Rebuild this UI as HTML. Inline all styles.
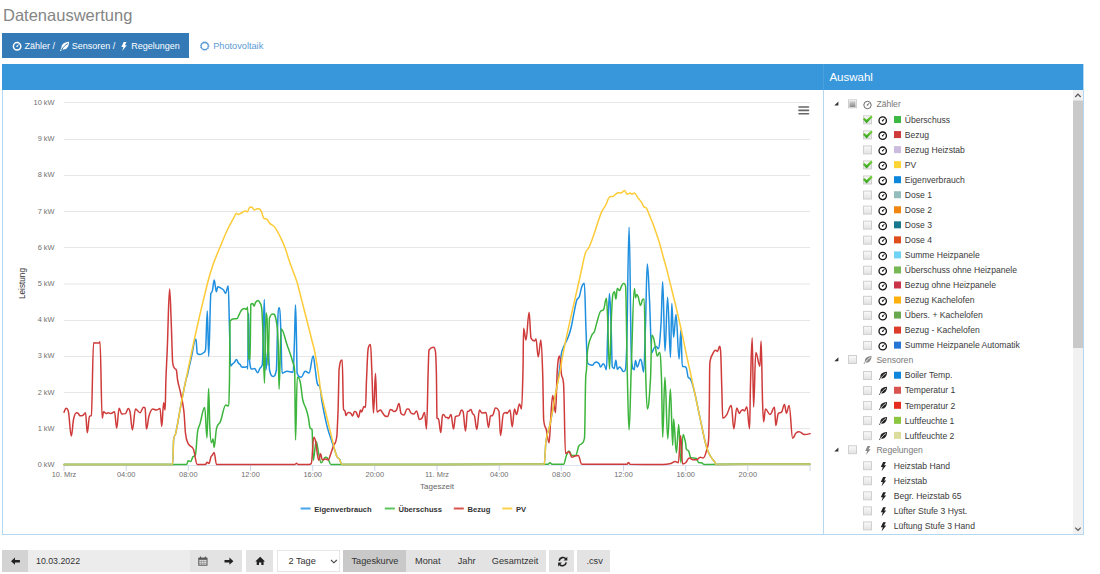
<!DOCTYPE html><html><head><meta charset="utf-8"><title>Datenauswertung</title><style>
*{box-sizing:border-box;margin:0;padding:0}
html,body{width:1100px;height:574px;overflow:hidden;background:#fff;font-family:"Liberation Sans",sans-serif}
body{position:relative}
.a{position:absolute;white-space:nowrap;line-height:1}
.tr{font-size:8.6px;color:#3a3a3a}
.tr.g{color:#777}
.bt{font-size:9.2px;color:#333}
svg{position:absolute;left:0;top:0}
</style></head><body>
<div class="a" style="left:3px;top:7px;font-size:16.5px;color:#858585">Datenauswertung</div>
<div class="a" style="left:2px;top:33px;width:187px;height:25px;background:#337ab7"></div>
<div class="a" style="left:24.5px;top:42.3px;font-size:9px;color:#fff">Zähler /</div>
<div class="a" style="left:71.8px;top:42.3px;font-size:9px;color:#fff">Sensoren /</div>
<div class="a" style="left:131.3px;top:42.3px;font-size:9px;color:#fff">Regelungen</div>
<div class="a" style="left:213.2px;top:42.2px;font-size:9.2px;color:#5b9bd5">Photovoltaik</div>
<div class="a" style="left:2px;top:64px;width:1082px;height:471px;border:1px solid #b5d8f2"></div>
<div class="a" style="left:2px;top:64px;width:1081px;height:26px;background:#3897db"></div>
<div class="a" style="left:823px;top:64px;width:1px;height:26px;background:#4a9fe0"></div>
<div class="a" style="left:823px;top:90px;width:1px;height:444px;background:#b5d8f2"></div>
<div class="a" style="left:829.4px;top:71.8px;font-size:11.5px;color:#fff">Auswahl</div>
<svg width="1100" height="574" viewBox="0 0 1100 574" style="font-family:Liberation Sans,sans-serif"><line x1="64" y1="102.5" x2="810" y2="102.5" stroke="#e6e6e6" stroke-width="1"/><line x1="64" y1="139.5" x2="810" y2="139.5" stroke="#e6e6e6" stroke-width="1"/><line x1="64" y1="175.5" x2="810" y2="175.5" stroke="#e6e6e6" stroke-width="1"/><line x1="64" y1="211.5" x2="810" y2="211.5" stroke="#e6e6e6" stroke-width="1"/><line x1="64" y1="247.5" x2="810" y2="247.5" stroke="#e6e6e6" stroke-width="1"/><line x1="64" y1="284.0" x2="810" y2="284.0" stroke="#e6e6e6" stroke-width="1"/><line x1="64" y1="320.5" x2="810" y2="320.5" stroke="#e6e6e6" stroke-width="1"/><line x1="64" y1="356.5" x2="810" y2="356.5" stroke="#e6e6e6" stroke-width="1"/><line x1="64" y1="392.5" x2="810" y2="392.5" stroke="#e6e6e6" stroke-width="1"/><line x1="64" y1="428.5" x2="810" y2="428.5" stroke="#e6e6e6" stroke-width="1"/><line x1="64" y1="465.5" x2="810" y2="465.5" stroke="#dde3f1" stroke-width="1"/><line x1="64.0" y1="465" x2="64.0" y2="471" stroke="#ccd6eb" stroke-width="1"/><line x1="126.2" y1="465" x2="126.2" y2="471" stroke="#ccd6eb" stroke-width="1"/><line x1="188.3" y1="465" x2="188.3" y2="471" stroke="#ccd6eb" stroke-width="1"/><line x1="250.5" y1="465" x2="250.5" y2="471" stroke="#ccd6eb" stroke-width="1"/><line x1="312.7" y1="465" x2="312.7" y2="471" stroke="#ccd6eb" stroke-width="1"/><line x1="374.8" y1="465" x2="374.8" y2="471" stroke="#ccd6eb" stroke-width="1"/><line x1="437.0" y1="465" x2="437.0" y2="471" stroke="#ccd6eb" stroke-width="1"/><line x1="499.2" y1="465" x2="499.2" y2="471" stroke="#ccd6eb" stroke-width="1"/><line x1="561.3" y1="465" x2="561.3" y2="471" stroke="#ccd6eb" stroke-width="1"/><line x1="623.5" y1="465" x2="623.5" y2="471" stroke="#ccd6eb" stroke-width="1"/><line x1="685.7" y1="465" x2="685.7" y2="471" stroke="#ccd6eb" stroke-width="1"/><line x1="747.8" y1="465" x2="747.8" y2="471" stroke="#ccd6eb" stroke-width="1"/><line x1="810.0" y1="465" x2="810.0" y2="471" stroke="#ccd6eb" stroke-width="1"/><text x="54.5" y="467.0" font-size="7.4" fill="#707070" text-anchor="end">0 kW</text><text x="54.5" y="430.8" font-size="7.4" fill="#707070" text-anchor="end">1 kW</text><text x="54.5" y="394.6" font-size="7.4" fill="#707070" text-anchor="end">2 kW</text><text x="54.5" y="358.4" font-size="7.4" fill="#707070" text-anchor="end">3 kW</text><text x="54.5" y="322.2" font-size="7.4" fill="#707070" text-anchor="end">4 kW</text><text x="54.5" y="286.0" font-size="7.4" fill="#707070" text-anchor="end">5 kW</text><text x="54.5" y="249.8" font-size="7.4" fill="#707070" text-anchor="end">6 kW</text><text x="54.5" y="213.6" font-size="7.4" fill="#707070" text-anchor="end">7 kW</text><text x="54.5" y="177.4" font-size="7.4" fill="#707070" text-anchor="end">8 kW</text><text x="54.5" y="141.2" font-size="7.4" fill="#707070" text-anchor="end">9 kW</text><text x="54.5" y="105.0" font-size="7.4" fill="#707070" text-anchor="end">10 kW</text><text x="64.0" y="477" font-size="7.4" fill="#707070" text-anchor="middle">10. Mrz</text><text x="126.2" y="477" font-size="7.4" fill="#707070" text-anchor="middle">04:00</text><text x="188.3" y="477" font-size="7.4" fill="#707070" text-anchor="middle">08:00</text><text x="250.5" y="477" font-size="7.4" fill="#707070" text-anchor="middle">12:00</text><text x="312.7" y="477" font-size="7.4" fill="#707070" text-anchor="middle">16:00</text><text x="374.8" y="477" font-size="7.4" fill="#707070" text-anchor="middle">20:00</text><text x="437.0" y="477" font-size="7.4" fill="#707070" text-anchor="middle">11. Mrz</text><text x="499.2" y="477" font-size="7.4" fill="#707070" text-anchor="middle">04:00</text><text x="561.3" y="477" font-size="7.4" fill="#707070" text-anchor="middle">08:00</text><text x="623.5" y="477" font-size="7.4" fill="#707070" text-anchor="middle">12:00</text><text x="685.7" y="477" font-size="7.4" fill="#707070" text-anchor="middle">16:00</text><text x="747.8" y="477" font-size="7.4" fill="#707070" text-anchor="middle">20:00</text><text x="437" y="489" font-size="8" fill="#666" text-anchor="middle">Tageszeit</text><text transform="translate(25.2,283.5) rotate(-90)" x="0" y="0" font-size="8.2" fill="#333" text-anchor="middle">Leistung</text><line x1="799" y1="107" x2="808.5" y2="107" stroke="#666" stroke-width="1.6" stroke-linecap="round"/><line x1="799" y1="110.4" x2="808.5" y2="110.4" stroke="#666" stroke-width="1.6" stroke-linecap="round"/><line x1="799" y1="113.8" x2="808.5" y2="113.8" stroke="#666" stroke-width="1.6" stroke-linecap="round"/><path d="M64.00,464.40 C64.00,464.40 129.16,464.40 172.60,464.40 C173.00,464.40 173.20,446.70 173.60,440.00 C174.44,433.30 174.86,437.33 175.70,433.30 C177.90,422.73 179.00,415.00 181.20,403.50 C183.08,393.68 184.02,388.63 185.90,380.00 C186.46,377.43 186.74,377.81 187.30,375.50 C188.94,368.73 189.76,364.24 191.40,357.30 C193.20,349.68 194.10,339.10 195.90,339.10 C196.46,339.10 196.74,352.70 197.30,353.60 C198.38,354.50 198.92,354.50 200.00,354.50 C201.44,354.50 202.16,353.88 203.60,352.70 C204.36,352.08 204.74,352.70 205.50,350.00 C206.22,347.30 206.58,310.90 207.30,310.90 C207.86,310.90 208.14,356.40 208.70,356.40 C209.58,356.40 210.02,296.30 210.90,293.60 C211.50,290.90 211.80,293.37 212.40,290.90 C213.12,287.93 213.48,280.00 214.20,280.00 C214.64,280.00 214.86,283.64 215.30,286.00 C215.74,288.36 215.96,291.80 216.40,291.80 C216.96,291.80 217.24,286.70 217.80,286.70 C219.08,286.70 219.72,287.47 221.00,288.20 C222.04,288.79 222.56,288.82 223.60,290.00 C224.36,290.86 224.74,293.30 225.50,293.30 C226.58,293.30 227.12,286.00 228.20,286.00 C228.68,286.00 228.92,309.02 229.40,325.00 C229.88,340.98 230.12,365.90 230.60,365.90 C231.28,365.90 231.62,364.73 232.30,364.10 C233.18,363.29 233.62,363.29 234.50,362.30 C235.26,361.45 235.64,359.50 236.40,359.50 C237.12,359.50 237.48,361.73 238.20,362.70 C239.12,363.93 239.58,363.82 240.50,365.00 C240.86,365.46 241.04,366.30 241.40,366.80 C242.64,367.30 243.26,367.30 244.50,367.30 C245.62,367.30 246.18,366.40 247.30,366.40 C247.46,366.40 247.54,369.10 247.70,369.10 C248.02,369.10 248.18,313.00 248.50,313.00 C248.90,313.00 249.10,350.90 249.50,360.00 C250.42,369.10 250.88,369.10 251.80,369.10 C252.88,369.10 253.42,368.60 254.50,368.60 C255.78,368.60 256.42,372.70 257.70,372.70 C258.62,372.70 259.08,369.84 260.00,368.20 C260.92,366.56 261.38,368.20 262.30,364.50 C263.10,360.80 263.50,299.50 264.30,299.50 C264.94,299.50 265.26,370.00 265.90,370.00 C266.82,370.00 267.28,348.20 268.20,348.20 C268.72,348.20 268.98,363.60 269.50,370.00 C270.98,376.40 271.72,376.40 273.20,376.40 C274.48,376.40 275.12,376.40 276.40,370.00 C276.84,363.60 277.06,342.99 277.50,330.00 C277.90,318.19 278.10,308.00 278.50,308.00 C278.94,308.00 279.16,308.00 279.60,308.00 C280.08,308.00 280.32,317.48 280.80,330.00 C281.32,343.56 281.58,373.20 282.10,373.20 C284.10,373.20 285.10,371.20 287.10,371.20 C289.50,371.20 290.70,372.20 293.10,372.20 C293.66,372.20 293.94,355.68 294.50,340.00 C294.90,328.80 295.10,305.00 295.50,305.00 C295.90,305.00 296.10,322.95 296.50,340.00 C296.74,350.23 296.86,369.20 297.10,373.20 C298.74,377.20 299.56,377.20 301.20,377.20 C302.80,377.20 303.60,371.20 305.20,371.20 C306.72,371.20 307.48,373.00 309.00,373.00 C310.68,373.00 311.52,356.10 313.20,356.10 C314.00,356.10 314.40,363.78 315.20,369.20 C316.00,374.62 316.40,380.19 317.20,383.20 C318.40,387.71 319.00,383.52 320.20,388.00 C320.80,390.24 321.10,396.59 321.70,400.00 C323.66,411.15 324.64,415.96 326.60,424.40 C328.04,430.60 328.76,432.06 330.20,436.60 C332.16,442.78 333.14,445.41 335.10,451.20 C335.86,453.45 336.24,455.30 337.00,456.70 C337.96,458.46 338.44,457.62 339.40,459.10 C340.44,460.70 340.96,464.40 342.00,464.40 C422.88,464.40 463.32,464.40 544.20,464.20 C544.92,464.00 545.28,445.93 546.00,441.00 C547.60,430.05 548.40,432.50 550.00,424.50 C552.92,409.90 554.38,401.88 557.30,384.50 C558.58,376.88 559.22,371.48 560.50,362.00 C560.98,358.44 561.22,353.49 561.70,351.90 C564.06,344.09 565.24,344.50 567.60,338.50 C568.92,335.14 569.58,333.84 570.90,328.50 C572.22,323.16 572.88,318.15 574.20,311.80 C575.24,306.79 575.76,303.18 576.80,300.10 C577.80,297.14 578.30,299.38 579.30,296.70 C580.30,294.02 580.80,289.38 581.80,286.70 C582.80,284.02 583.30,283.30 584.30,283.30 C584.98,283.30 585.32,313.17 586.00,330.00 C586.60,344.85 586.90,360.70 587.50,362.50 C588.14,364.30 588.46,363.94 589.10,364.30 C590.38,365.02 591.02,365.20 592.30,365.20 C593.18,365.20 593.62,363.59 594.50,362.90 C595.26,362.31 595.64,362.00 596.40,362.00 C597.48,362.00 598.02,362.48 599.10,363.80 C599.66,364.48 599.94,367.00 600.50,367.00 C601.58,367.00 602.12,363.80 603.20,363.80 C603.72,363.80 603.98,364.04 604.50,365.00 C605.26,366.40 605.64,369.70 606.40,369.70 C606.96,369.70 607.24,343.75 607.80,330.00 C608.48,313.31 608.82,293.60 609.50,293.60 C610.18,293.60 610.52,312.17 611.20,330.00 C611.64,341.53 611.86,365.60 612.30,367.00 C613.02,368.40 613.38,368.40 614.10,368.40 C614.82,368.40 615.18,360.20 615.90,360.20 C616.46,360.20 616.74,369.30 617.30,369.30 C618.18,369.30 618.62,367.00 619.50,367.00 C620.26,367.00 620.64,367.88 621.40,368.80 C622.12,369.68 622.48,371.50 623.20,371.50 C623.92,371.50 624.28,371.50 625.00,370.60 C625.56,369.70 625.84,370.60 626.40,355.50 C627.48,340.40 628.02,227.30 629.10,227.30 C630.06,227.30 630.54,350.30 631.50,360.00 C632.54,369.70 633.06,369.70 634.10,369.70 C634.66,369.70 634.94,360.60 635.50,360.60 C636.22,360.60 636.58,367.00 637.30,367.00 C638.58,367.00 639.22,359.30 640.50,359.30 C641.02,359.30 641.28,360.37 641.80,362.50 C642.52,365.45 642.88,372.00 643.60,372.00 C644.36,372.00 644.74,346.68 645.50,324.50 C646.22,303.48 646.58,264.00 647.30,264.00 C648.18,264.00 648.62,282.69 649.50,300.00 C650.42,318.09 650.88,352.50 651.80,352.50 C652.72,352.50 653.18,349.10 654.10,347.90 C655.02,346.70 655.48,346.50 656.40,346.50 C657.12,346.50 657.48,348.80 658.20,348.80 C659.32,348.80 659.88,341.18 661.00,324.50 C661.68,314.38 662.02,281.80 662.70,281.80 C663.62,281.80 664.08,351.10 665.00,351.10 C666.04,351.10 666.56,297.30 667.60,297.30 C668.76,297.30 669.34,357.30 670.50,357.30 C671.02,357.30 671.28,303.60 671.80,303.60 C672.52,303.60 672.88,337.30 673.60,337.30 C674.56,337.30 675.04,314.50 676.00,314.50 C677.24,314.50 677.86,359.00 679.10,359.00 C679.82,359.00 680.18,330.00 680.90,330.00 C681.46,330.00 681.74,366.40 682.30,366.40 C683.02,366.40 683.38,366.40 684.10,366.40 C685.02,366.40 685.48,366.40 686.40,368.20 C687.12,370.00 687.48,376.00 688.20,377.30 C688.92,378.60 689.28,377.30 690.00,378.60 C691.60,379.90 692.40,383.85 694.00,390.00 C696.04,397.85 697.06,404.08 699.10,413.60 C701.26,423.68 702.34,429.64 704.50,439.00 C705.70,444.20 706.30,446.72 707.50,450.00 C708.98,454.04 709.72,454.86 711.20,457.30 C712.68,459.74 713.42,459.92 714.90,462.20 C715.26,462.76 715.44,464.40 715.80,464.40 C753.48,464.40 810.00,464.20 810.00,464.20" fill="none" stroke="#1f8fe0" stroke-width="1.5" stroke-linejoin="round" stroke-linecap="round"/><path d="M64.00,464.40 C64.00,464.40 137.62,464.40 186.70,464.40 C187.30,464.40 187.60,460.80 188.20,460.80 C189.16,460.80 189.64,461.50 190.60,461.50 C191.52,461.50 191.98,458.01 192.90,456.80 C193.86,455.53 194.34,456.80 195.30,455.30 C196.22,453.80 196.68,437.85 197.60,431.70 C198.56,425.29 199.04,427.17 200.00,423.90 C201.88,417.49 202.82,407.50 204.70,407.50 C205.62,407.50 206.08,438.00 207.00,438.00 C207.64,438.00 207.96,388.60 208.60,388.60 C209.08,388.60 209.32,417.73 209.80,427.00 C210.44,439.37 210.76,442.70 211.40,442.70 C212.04,442.70 212.36,439.00 213.00,439.00 C213.44,439.00 213.66,447.40 214.10,447.40 C215.06,447.40 215.54,432.53 216.50,428.60 C218.06,422.21 218.84,425.50 220.40,421.60 C222.60,416.10 223.70,405.10 225.90,405.10 C226.82,405.10 227.28,405.90 228.20,405.90 C228.72,405.90 228.98,404.53 229.50,380.00 C229.70,370.57 229.80,323.20 230.00,321.00 C231.80,318.80 232.70,318.80 234.50,318.80 C235.42,318.80 235.88,318.80 236.80,318.80 C237.72,318.80 238.18,316.42 239.10,314.70 C240.02,312.98 240.48,311.27 241.40,310.20 C242.64,308.75 243.26,308.40 244.50,308.40 C245.26,308.40 245.64,309.30 246.40,309.30 C246.92,309.30 247.18,307.00 247.70,307.00 C248.06,307.00 248.24,359.10 248.60,359.10 C249.16,359.10 249.44,359.10 250.00,359.00 C250.36,358.90 250.54,305.20 250.90,304.30 C251.62,303.40 251.98,303.40 252.70,303.40 C253.26,303.40 253.54,306.10 254.10,306.10 C254.66,306.10 254.94,303.32 255.50,302.50 C256.50,301.04 257.00,300.40 258.00,300.40 C258.80,300.40 259.20,301.03 260.00,302.90 C260.72,304.59 261.08,302.90 261.80,309.30 C262.28,315.70 262.52,321.86 263.00,335.00 C263.60,351.42 263.90,383.20 264.50,383.20 C265.10,383.20 265.40,313.00 266.00,313.00 C266.40,313.00 266.60,313.00 267.00,318.00 C267.44,323.00 267.66,365.20 268.10,365.20 C268.66,365.20 268.94,322.00 269.50,318.00 C270.94,314.00 271.66,314.00 273.10,314.00 C274.30,314.00 274.90,314.00 276.10,320.00 C276.90,326.00 277.30,322.55 278.10,341.00 C278.50,350.23 278.70,389.20 279.10,389.20 C279.90,389.20 280.30,329.00 281.10,329.00 C283.50,329.00 284.70,338.20 287.10,345.00 C289.50,351.80 290.70,354.73 293.10,363.00 C293.74,365.21 294.06,363.00 294.70,371.20 C295.02,379.40 295.18,440.00 295.50,440.00 C296.22,440.00 296.58,377.30 297.30,377.30 C298.38,377.30 298.92,377.30 300.00,381.00 C301.12,384.70 301.68,394.78 302.80,400.00 C304.04,405.78 304.66,404.64 305.90,408.50 C306.86,411.48 307.34,412.64 308.30,417.10 C309.02,420.44 309.38,426.70 310.10,428.00 C310.86,429.30 311.24,428.00 312.00,429.30 C312.48,430.60 312.72,460.30 313.20,460.30 C314.40,460.30 315.00,441.50 316.20,441.50 C317.20,441.50 317.70,449.35 318.70,453.70 C319.66,457.87 320.14,462.80 321.10,462.80 C322.82,462.80 323.68,457.30 325.40,457.30 C326.36,457.30 326.84,457.30 327.80,458.50 C329.04,459.70 329.66,464.40 330.90,464.40 C417.74,464.40 461.16,464.40 548.00,464.20 C548.80,464.00 549.20,462.70 550.00,462.70 C550.80,462.70 551.20,464.20 552.00,464.20 C556.64,464.20 558.96,464.20 563.60,464.20 C564.72,464.20 565.28,458.21 566.40,455.50 C567.48,452.89 568.02,450.90 569.10,450.90 C570.18,450.90 570.72,455.50 571.80,455.50 C573.28,455.50 574.02,455.50 575.50,455.50 C576.94,455.50 577.66,447.40 579.10,445.50 C580.18,443.60 580.72,445.06 581.80,443.60 C582.88,442.14 583.42,443.60 584.50,438.20 C585.02,432.80 585.28,382.00 585.80,376.00 C586.08,370.00 586.22,374.01 586.50,370.00 C586.94,363.69 587.16,353.09 587.60,350.20 C589.28,339.17 590.12,339.81 591.80,335.20 C592.80,332.45 593.30,334.34 594.30,331.80 C595.38,329.06 595.92,325.55 597.00,322.00 C598.40,317.39 599.10,313.30 600.50,311.40 C601.74,309.50 602.36,311.40 603.60,309.50 C604.72,307.60 605.28,298.20 606.40,298.20 C606.84,298.20 607.06,304.95 607.50,315.00 C608.30,333.27 608.70,369.00 609.50,369.00 C610.30,369.00 610.70,332.62 611.50,315.00 C612.06,302.66 612.34,296.40 612.90,294.10 C613.54,291.80 613.86,291.80 614.50,291.80 C615.06,291.80 615.34,299.10 615.90,299.10 C616.46,299.10 616.74,288.60 617.30,288.60 C618.18,288.60 618.62,290.50 619.50,290.50 C620.42,290.50 620.88,287.05 621.80,285.50 C622.52,284.29 622.88,283.60 623.60,283.60 C624.36,283.60 624.74,283.60 625.50,285.50 C626.22,287.40 626.58,345.10 627.30,374.00 C628.02,402.90 628.38,430.00 629.10,430.00 C629.94,430.00 630.36,392.41 631.20,370.00 C632.48,335.85 633.12,288.60 634.40,288.60 C634.84,288.60 635.06,297.70 635.50,297.70 C636.02,297.70 636.28,294.50 636.80,294.50 C637.36,294.50 637.64,295.14 638.20,296.80 C639.12,299.54 639.58,305.50 640.50,305.50 C641.38,305.50 641.82,299.90 642.70,299.50 C643.26,299.10 643.54,299.10 644.10,299.10 C644.74,299.10 645.06,352.02 645.70,374.00 C646.34,395.98 646.66,409.00 647.30,409.00 C648.58,409.00 649.22,399.99 650.50,379.00 C651.02,370.47 651.28,335.20 651.80,335.20 C652.36,335.20 652.64,335.20 653.20,337.00 C654.12,338.80 654.58,343.64 655.50,347.90 C656.22,351.24 656.58,356.00 657.30,356.00 C658.18,356.00 658.62,352.50 659.50,352.50 C660.30,352.50 660.70,357.80 661.50,379.00 C661.98,391.72 662.22,437.30 662.70,437.30 C663.58,437.30 664.02,377.30 664.90,377.30 C666.06,377.30 666.64,439.00 667.80,439.00 C668.84,439.00 669.36,389.00 670.40,389.00 C671.32,389.00 671.78,445.50 672.70,445.50 C673.06,445.50 673.24,419.00 673.60,419.00 C674.72,419.00 675.28,452.70 676.40,452.70 C677.32,452.70 677.78,424.50 678.70,424.50 C679.58,424.50 680.02,462.70 680.90,462.70 C681.78,462.70 682.22,434.50 683.10,434.50 C684.06,434.50 684.54,438.27 685.50,442.70 C685.78,443.99 685.92,446.40 686.20,448.80 C687.20,451.20 687.70,449.22 688.70,451.20 C689.42,452.62 689.78,456.10 690.50,457.30 C692.94,458.50 694.16,457.30 696.60,458.50 C697.56,459.70 698.04,462.80 699.00,462.80 C700.00,462.80 700.50,462.80 701.50,462.80 C702.46,462.80 702.94,464.40 703.90,464.40 C746.34,464.40 810.00,464.20 810.00,464.20" fill="none" stroke="#3db53d" stroke-width="1.5" stroke-linejoin="round" stroke-linecap="round"/><path d="M64.00,412.20 C64.00,412.20 65.44,408.20 66.40,408.20 C67.12,408.20 67.48,408.20 68.20,410.90 C69.44,413.60 70.06,436.00 71.30,436.00 C72.22,436.00 72.68,423.20 73.60,419.00 C74.72,413.88 75.28,412.70 76.40,412.70 C77.12,412.70 77.48,412.70 78.20,413.30 C78.92,413.90 79.28,415.80 80.00,415.80 C81.08,415.80 81.62,415.80 82.70,415.50 C83.82,415.20 84.38,412.70 85.50,412.70 C86.22,412.70 86.58,432.70 87.30,432.70 C88.18,432.70 88.62,417.30 89.50,416.40 C90.22,415.50 90.58,416.40 91.30,415.50 C92.22,414.60 92.68,342.70 93.60,342.70 C94.72,342.70 95.28,343.10 96.40,343.10 C97.48,343.10 98.02,343.10 99.10,343.10 C99.46,343.10 99.64,341.80 100.00,341.80 C100.88,341.80 101.32,418.20 102.20,418.20 C102.76,418.20 103.04,411.80 103.60,411.80 C104.72,411.80 105.28,413.60 106.40,413.60 C107.12,413.60 107.48,412.70 108.20,412.70 C109.28,412.70 109.82,413.60 110.90,413.60 C112.34,413.60 113.06,411.80 114.50,411.80 C115.38,411.80 115.82,428.20 116.70,428.20 C117.66,428.20 118.14,408.20 119.10,408.20 C120.18,408.20 120.72,414.00 121.80,414.00 C123.28,414.00 124.02,414.00 125.50,413.60 C126.58,413.20 127.12,408.50 128.20,408.50 C128.92,408.50 129.28,408.50 130.00,411.80 C130.96,415.10 131.44,430.00 132.40,430.00 C133.64,430.00 134.26,409.00 135.50,409.00 C137.30,409.00 138.20,412.70 140.00,412.70 C141.44,412.70 142.16,407.30 143.60,407.30 C144.20,407.30 144.50,407.30 145.10,408.20 C145.62,409.10 145.88,429.10 146.40,429.10 C147.48,429.10 148.02,418.95 149.10,415.50 C150.54,410.91 151.26,409.00 152.70,409.00 C154.18,409.00 154.92,410.00 156.40,410.00 C157.84,410.00 158.56,408.50 160.00,408.50 C160.72,408.50 161.08,426.40 161.80,426.40 C162.52,426.40 162.88,402.70 163.60,402.70 C164.20,402.70 164.50,410.00 165.10,410.00 C165.42,410.00 165.58,388.99 165.90,380.00 C166.46,364.27 166.74,361.97 167.30,348.20 C168.22,325.57 168.68,289.00 169.60,289.00 C170.28,289.00 170.62,308.33 171.30,324.50 C171.86,337.81 172.14,357.20 172.70,362.70 C173.42,368.20 173.78,366.78 174.50,368.20 C175.26,369.70 175.64,368.20 176.40,370.00 C176.88,371.80 177.12,377.38 177.60,380.00 C178.88,386.98 179.52,387.62 180.80,394.00 C182.04,400.18 182.66,401.03 183.90,411.40 C184.54,416.75 184.86,428.16 185.50,433.30 C186.42,440.68 186.88,440.23 187.80,442.70 C188.76,445.27 189.24,444.80 190.20,445.90 C191.44,447.32 192.06,445.90 193.30,449.00 C194.90,452.10 195.70,464.40 197.30,464.40 C200.58,464.40 202.22,464.40 205.50,464.40 C206.10,464.40 206.40,462.30 207.00,462.30 C207.80,462.30 208.20,463.50 209.00,463.50 C209.80,463.50 210.20,458.74 211.00,456.80 C211.60,455.34 211.90,455.85 212.50,455.00 C213.14,454.09 213.46,452.40 214.10,452.40 C215.06,452.40 215.54,464.40 216.50,464.40 C247.90,464.40 263.60,464.40 295.00,464.40 C295.60,464.40 295.90,463.30 296.50,463.30 C297.10,463.30 297.40,464.40 298.00,464.40 C302.40,464.40 304.60,464.40 309.00,464.40 C309.92,464.40 310.38,464.40 311.30,463.40 C312.30,462.40 312.80,437.20 313.80,437.20 C314.52,437.20 314.88,438.11 315.60,441.50 C316.84,447.35 317.46,460.30 318.70,460.30 C319.42,460.30 319.78,453.70 320.50,453.70 C321.22,453.70 321.58,459.80 322.30,459.80 C323.54,459.80 324.16,459.10 325.40,459.10 C326.60,459.10 327.20,459.80 328.40,459.80 C329.12,459.80 329.48,457.48 330.20,455.50 C331.44,452.08 332.06,450.07 333.30,446.30 C334.78,441.79 335.52,446.30 337.00,434.80 C337.48,423.30 337.72,421.95 338.20,406.40 C338.52,396.03 338.68,380.00 339.00,370.00 C340.28,360.00 340.92,360.00 342.20,360.00 C342.72,360.00 342.98,407.00 343.50,409.00 C344.10,411.00 344.40,409.44 345.00,411.00 C345.40,412.04 345.60,415.50 346.00,415.50 C346.60,415.50 346.90,413.50 347.50,413.00 C348.10,412.50 348.40,412.50 349.00,412.50 C349.80,412.50 350.20,412.70 351.00,413.50 C351.60,414.10 351.90,416.00 352.50,416.00 C353.30,416.00 353.70,411.50 354.50,411.50 C355.10,411.50 355.40,411.50 356.00,412.00 C357.00,412.50 357.50,417.50 358.50,417.50 C359.30,417.50 359.70,410.00 360.50,410.00 C360.90,410.00 361.10,412.00 361.50,412.00 C362.50,412.00 363.00,406.50 364.00,406.50 C364.60,406.50 364.90,407.50 365.50,407.50 C365.90,407.50 366.10,388.79 366.50,380.00 C367.18,365.07 367.52,351.90 368.20,348.20 C369.12,344.50 369.58,344.50 370.50,344.50 C371.02,344.50 371.28,358.13 371.80,370.00 C372.48,385.53 372.82,413.00 373.50,413.00 C374.30,413.00 374.70,373.60 375.50,373.60 C376.10,373.60 376.40,412.00 377.00,412.00 C378.40,412.00 379.10,410.00 380.50,410.00 C381.10,410.00 381.40,411.20 382.00,412.00 C383.20,413.60 383.80,415.50 385.00,416.00 C386.00,416.50 386.50,416.50 387.50,416.50 C388.70,416.50 389.30,409.50 390.50,409.50 C391.10,409.50 391.40,409.66 392.00,410.00 C392.80,410.46 393.20,411.50 394.00,411.50 C395.00,411.50 395.50,411.50 396.50,410.00 C397.50,408.50 398.00,403.50 399.00,403.50 C399.80,403.50 400.20,412.00 401.00,413.50 C402.20,415.00 402.80,415.00 404.00,415.00 C405.20,415.00 405.80,409.00 407.00,409.00 C407.60,409.00 407.90,409.00 408.50,409.00 C409.50,409.00 410.00,412.00 411.00,413.00 C412.20,414.00 412.80,414.00 414.00,414.00 C415.00,414.00 415.50,411.00 416.50,411.00 C417.70,411.00 418.30,419.50 419.50,419.50 C420.50,419.50 421.00,419.40 422.00,418.00 C423.00,416.60 423.50,412.50 424.50,412.50 C425.30,412.50 425.70,429.00 426.50,429.00 C427.18,429.00 427.52,391.49 428.20,370.00 C428.52,359.89 428.68,352.70 429.00,350.00 C430.84,347.30 431.76,347.30 433.60,347.30 C434.36,347.30 434.74,347.30 435.50,352.00 C435.86,356.70 436.04,358.16 436.40,374.00 C436.64,384.56 436.76,417.00 437.00,418.00 C437.60,419.00 437.90,418.00 438.50,419.00 C439.42,420.00 439.88,432.50 440.80,432.50 C441.48,432.50 441.82,416.50 442.50,415.50 C442.90,414.50 443.10,414.50 443.50,414.50 C444.50,414.50 445.00,417.50 446.00,417.50 C446.60,417.50 446.90,417.50 447.50,417.50 C447.90,417.50 448.10,418.50 448.50,418.50 C449.50,418.50 450.00,414.50 451.00,414.50 C452.00,414.50 452.50,429.00 453.50,429.00 C454.30,429.00 454.70,417.50 455.50,416.50 C456.90,415.50 457.60,416.50 459.00,415.50 C460.00,414.50 460.50,410.00 461.50,410.00 C462.10,410.00 462.40,410.00 463.00,411.50 C464.00,413.00 464.50,431.00 465.50,431.00 C466.30,431.00 466.70,412.00 467.50,411.50 C468.10,411.00 468.40,411.34 469.00,411.00 C469.80,410.54 470.20,409.50 471.00,409.50 C471.60,409.50 471.90,412.39 472.50,413.50 C473.30,414.99 473.70,413.50 474.50,416.00 C475.42,418.50 475.88,429.50 476.80,429.50 C477.88,429.50 478.42,410.00 479.50,410.00 C480.50,410.00 481.00,413.00 482.00,413.00 C483.60,413.00 484.40,412.50 486.00,412.50 C487.00,412.50 487.50,427.50 488.50,427.50 C489.30,427.50 489.70,416.50 490.50,416.00 C491.30,415.50 491.70,416.00 492.50,415.50 C493.70,415.00 494.30,408.00 495.50,408.00 C496.90,408.00 497.60,408.00 499.00,411.50 C499.60,415.00 499.90,435.50 500.50,435.50 C501.70,435.50 502.30,414.50 503.50,413.50 C504.70,412.50 505.30,412.50 506.50,412.50 C506.70,412.50 506.80,413.50 507.00,413.50 C508.20,413.50 508.80,410.00 510.00,410.00 C510.88,410.00 511.32,427.00 512.20,427.00 C513.12,427.00 513.58,409.00 514.50,409.00 C515.30,409.00 515.70,414.50 516.50,414.50 C517.70,414.50 518.30,404.00 519.50,404.00 C520.30,404.00 520.70,409.00 521.50,409.00 C522.10,409.00 522.40,393.09 523.00,370.00 C523.24,360.77 523.36,328.20 523.60,328.20 C524.56,328.20 525.04,340.00 526.00,340.00 C527.24,340.00 527.86,312.20 529.10,312.20 C529.86,312.20 530.24,335.40 531.00,338.20 C532.40,341.00 533.10,341.00 534.50,341.00 C535.10,341.00 535.40,339.00 536.00,339.00 C536.88,339.00 537.32,357.00 538.20,357.00 C539.28,357.00 539.82,340.00 540.90,340.00 C541.62,340.00 541.98,352.93 542.70,374.00 C543.06,384.53 543.24,408.00 543.60,419.00 C544.72,430.00 545.28,425.17 546.40,430.00 C547.48,434.65 548.02,442.70 549.10,442.70 C549.82,442.70 550.18,424.94 550.90,415.50 C551.62,406.06 551.98,395.50 552.70,395.50 C553.82,395.50 554.38,412.70 555.50,412.70 C556.22,412.70 556.58,379.72 557.30,370.00 C558.26,357.04 558.74,356.00 559.70,356.00 C560.38,356.00 560.72,369.03 561.40,374.00 C562.28,380.43 562.72,374.00 563.60,384.50 C564.36,395.00 564.74,453.60 565.50,453.60 C566.94,453.60 567.66,451.80 569.10,451.80 C570.18,451.80 570.72,457.30 571.80,457.30 C573.08,457.30 573.72,456.36 575.00,456.00 C576.28,455.64 576.92,455.50 578.20,455.50 C579.64,455.50 580.36,464.20 581.80,464.20 C599.88,464.20 608.92,464.20 627.00,464.20 C627.60,464.20 627.90,462.50 628.50,462.50 C629.10,462.50 629.40,464.00 630.00,464.20 C643.08,464.40 649.62,464.40 662.70,464.40 C666.02,464.40 667.68,464.14 671.00,463.40 C672.68,463.02 673.52,461.60 675.20,461.60 C676.44,461.60 677.06,462.80 678.30,462.80 C679.26,462.80 679.74,435.40 680.70,435.40 C681.46,435.40 681.84,464.00 682.60,464.00 C683.80,464.00 684.40,463.87 685.60,462.80 C687.08,461.47 687.82,458.00 689.30,458.00 C690.74,458.00 691.46,459.80 692.90,459.80 C694.38,459.80 695.12,459.80 696.60,459.80 C698.04,459.80 698.76,457.30 700.20,457.30 C701.44,457.30 702.06,457.90 703.30,457.90 C704.78,457.90 705.52,454.53 707.00,448.80 C707.72,446.01 708.08,448.80 708.80,436.60 C709.04,424.40 709.16,418.48 709.40,400.00 C709.48,393.84 709.52,380.97 709.60,375.00 C709.72,366.05 709.78,363.55 709.90,362.70 C710.94,355.31 711.46,356.72 712.50,354.40 C713.70,351.72 714.30,350.20 715.50,350.20 C716.30,350.20 716.70,351.50 717.50,351.50 C718.34,351.50 718.76,346.30 719.60,346.30 C719.96,346.30 720.14,346.30 720.50,350.00 C721.02,353.70 721.28,372.56 721.80,388.00 C722.20,399.88 722.40,418.30 722.80,418.30 C724.28,418.30 725.02,417.43 726.50,415.20 C728.42,412.31 729.38,405.50 731.30,405.50 C732.30,405.50 732.80,428.70 733.80,428.70 C735.00,428.70 735.60,408.00 736.80,408.00 C737.80,408.00 738.30,413.40 739.30,413.40 C739.98,413.40 740.32,411.68 741.00,411.00 C741.76,410.24 742.14,409.80 742.90,409.80 C743.54,409.80 743.86,411.00 744.50,411.00 C745.42,411.00 745.88,406.70 746.80,406.70 C747.92,406.70 748.48,428.70 749.60,428.70 C749.92,428.70 750.08,399.19 750.40,388.00 C751.12,362.83 751.48,337.80 752.20,337.80 C752.76,337.80 753.04,407.00 753.60,407.00 C754.48,407.00 754.92,352.60 755.80,352.60 C757.44,352.60 758.26,366.20 759.90,366.20 C760.38,366.20 760.62,341.10 761.10,341.10 C761.66,341.10 761.94,381.92 762.50,400.00 C762.94,414.20 763.16,421.80 763.60,421.80 C764.36,421.80 764.74,409.00 765.50,409.00 C767.30,409.00 768.20,414.50 770.00,414.50 C771.80,414.50 772.70,407.30 774.50,407.30 C775.02,407.30 775.28,425.50 775.80,425.50 C776.76,425.50 777.24,415.40 778.20,413.60 C779.64,411.80 780.36,413.60 781.80,411.80 C782.88,410.00 783.42,404.50 784.50,404.50 C785.26,404.50 785.64,413.30 786.40,413.30 C787.48,413.30 788.02,405.50 789.10,405.50 C790.54,405.50 791.26,438.20 792.70,438.20 C794.02,438.20 794.68,434.20 796.00,433.00 C797.24,431.80 797.86,431.80 799.10,431.80 C801.26,431.80 802.34,434.50 804.50,434.50 C806.70,434.50 810.00,433.60 810.00,433.60" fill="none" stroke="#cf3b3b" stroke-width="1.5" stroke-linejoin="round" stroke-linecap="round"/><path d="M64.00,464.40 C64.00,464.40 129.16,464.40 172.60,464.40 C173.00,464.40 173.20,446.70 173.60,440.00 C174.44,433.30 174.86,437.33 175.70,433.30 C177.90,422.73 179.00,415.00 181.20,403.50 C183.08,393.68 184.02,389.09 185.90,380.00 C190.10,359.69 192.20,348.84 196.40,330.00 C200.76,310.44 202.94,301.25 207.30,284.00 C209.46,275.45 210.54,271.74 212.70,265.50 C215.62,257.06 217.08,254.40 220.00,247.30 C222.92,240.20 224.38,236.22 227.30,230.00 C230.18,223.86 231.62,221.69 234.50,216.40 C235.26,215.01 235.64,213.30 236.40,213.30 C237.04,213.30 237.36,214.50 238.00,214.50 C239.52,214.50 240.28,213.41 241.80,212.70 C243.28,212.01 244.02,211.00 245.50,211.00 C246.22,211.00 246.58,211.80 247.30,211.80 C248.38,211.80 248.92,206.90 250.00,206.90 C250.80,206.90 251.20,206.90 252.00,207.30 C252.88,207.70 253.32,210.00 254.20,210.00 C255.44,210.00 256.06,208.70 257.30,208.70 C258.22,208.70 258.68,208.70 259.60,209.00 C260.36,209.30 260.74,210.16 261.50,211.80 C262.50,213.96 263.00,218.00 264.00,218.50 C264.96,219.00 265.44,218.50 266.40,219.00 C267.84,219.50 268.56,222.20 270.00,223.60 C271.80,225.36 272.70,224.49 274.50,226.90 C277.06,230.33 278.34,233.06 280.90,238.20 C282.74,241.90 283.66,244.05 285.50,249.00 C286.90,252.77 287.60,255.90 289.00,260.00 C290.84,265.38 291.76,267.60 293.60,272.70 C295.08,276.80 295.82,278.34 297.30,283.00 C298.02,285.26 298.38,287.19 299.10,290.00 C301.66,299.99 302.94,304.92 305.50,315.00 C308.22,325.72 309.58,331.12 312.30,342.00 C313.38,346.32 313.92,347.18 315.00,353.00 C316.68,362.06 317.52,367.90 319.20,379.20 C319.72,382.70 319.98,387.44 320.50,390.00 C323.22,403.36 324.58,407.60 327.30,419.00 C330.42,432.08 331.98,439.07 335.10,451.20 C335.86,454.15 336.24,455.30 337.00,456.70 C337.96,458.46 338.44,457.62 339.40,459.10 C340.44,460.70 340.96,464.40 342.00,464.40 C422.88,464.40 463.32,464.40 544.20,464.20 C544.92,464.00 545.28,445.93 546.00,441.00 C547.60,430.05 548.40,432.50 550.00,424.50 C552.92,409.90 554.38,399.89 557.30,384.50 C558.06,380.49 558.44,380.06 559.20,376.00 C560.88,367.02 561.72,360.31 563.40,351.90 C566.72,335.27 568.38,328.41 571.70,313.40 C574.74,299.65 576.26,293.51 579.30,280.00 C580.30,275.55 580.80,272.90 581.80,268.50 C583.28,261.98 584.02,257.00 585.50,252.70 C586.94,248.52 587.66,250.50 589.10,247.30 C591.26,242.50 592.34,238.87 594.50,232.70 C597.06,225.39 598.34,219.93 600.90,213.60 C602.74,209.05 603.66,208.92 605.50,205.50 C607.30,202.16 608.20,197.00 610.00,196.70 C611.08,196.40 611.62,196.70 612.70,196.40 C614.90,196.10 616.00,192.70 618.20,192.70 C619.32,192.70 619.88,193.00 621.00,193.00 C622.40,193.00 623.10,190.50 624.50,190.50 C625.62,190.50 626.18,194.20 627.30,194.20 C628.38,194.20 628.92,193.00 630.00,193.00 C630.80,193.00 631.20,194.20 632.00,194.20 C632.88,194.20 633.32,193.00 634.20,193.00 C635.80,193.00 636.60,196.16 638.20,198.20 C639.64,200.04 640.36,200.51 641.80,202.70 C642.52,203.79 642.88,205.54 643.60,206.40 C644.72,207.74 645.28,206.55 646.40,208.20 C647.48,209.79 648.02,211.91 649.10,214.50 C650.90,218.83 651.80,220.59 653.60,225.50 C655.80,231.51 656.90,234.61 659.10,241.80 C660.90,247.69 661.80,251.74 663.60,258.20 C664.72,262.22 665.28,263.69 666.40,268.00 C667.96,274.01 668.74,277.70 670.30,284.00 C670.74,285.78 670.96,286.43 671.40,288.20 C673.36,296.11 674.34,299.92 676.30,308.20 C678.30,316.64 679.30,320.82 681.30,330.00 C683.10,338.26 684.00,343.33 685.80,351.80 C687.40,359.33 688.20,362.64 689.80,370.00 C691.52,377.92 692.38,381.94 694.10,390.00 C696.10,399.38 697.10,404.18 699.10,413.60 C701.26,423.78 702.34,429.64 704.50,439.00 C705.70,444.20 706.30,446.72 707.50,450.00 C708.98,454.04 709.72,454.86 711.20,457.30 C712.68,459.74 713.42,459.92 714.90,462.20 C715.26,462.76 715.44,464.40 715.80,464.40 C753.48,464.40 810.00,464.20 810.00,464.20" fill="none" stroke="#fdcb37" stroke-width="1.5" stroke-linejoin="round" stroke-linecap="round"/><line x1="64" y1="464.5" x2="172.8" y2="464.5" stroke="#bdc96c" stroke-width="1.3"/><line x1="342.5" y1="464.5" x2="544.2" y2="464.5" stroke="#bdc96c" stroke-width="1.3"/><line x1="715.2" y1="464.5" x2="810" y2="464.5" stroke="#bdc96c" stroke-width="1.3"/><line x1="300.6" y1="508.5" x2="310.6" y2="508.5" stroke="#45a5e8" stroke-width="2"/><text x="314.3" y="511.5" font-size="7.6" font-weight="bold" fill="#333">Eigenverbrauch</text><line x1="384.8" y1="508.5" x2="394.8" y2="508.5" stroke="#5cc45c" stroke-width="2"/><text x="398.5" y="511.5" font-size="7.6" font-weight="bold" fill="#333">Überschuss</text><line x1="453.8" y1="508.5" x2="463.8" y2="508.5" stroke="#d9534f" stroke-width="2"/><text x="467.5" y="511.5" font-size="7.6" font-weight="bold" fill="#333">Bezug</text><line x1="502.3" y1="508.5" x2="512.3" y2="508.5" stroke="#fbd14b" stroke-width="2"/><text x="516.0" y="511.5" font-size="7.6" font-weight="bold" fill="#333">PV</text></svg>
<svg width="1100" height="574" viewBox="0 0 1100 574"><defs><linearGradient id="cbg" x1="0" y1="0" x2="0" y2="1"><stop offset="0" stop-color="#fafafa"/><stop offset="1" stop-color="#e2e2e2"/></linearGradient><linearGradient id="pg" x1="0" y1="0" x2="0" y2="1"><stop offset="0" stop-color="#d0d0d0"/><stop offset="1" stop-color="#8a8a8a"/></linearGradient><linearGradient id="chk" x1="0" y1="0" x2="0" y2="1"><stop offset="0" stop-color="#7cdc3c"/><stop offset="1" stop-color="#2a9a1a"/></linearGradient></defs><path d="M838.4,101.6 L838.4,105.5 L834.3,105.5 Z" fill="#333"/><rect x="848.5" y="99.8" width="8" height="8" fill="url(#cbg)" stroke="#cfcfcf" stroke-width="1"/><rect x="849.6" y="101.2" width="5.8" height="5.8" fill="url(#pg)"/><circle cx="867.5" cy="104.99999999999999" r="3.7" fill="none" stroke="#6a6a6a" stroke-width="1.0"/><path d="M867.5,104.99999999999999 L869.3,102.99999999999999" stroke="#6a6a6a" stroke-width="1"/><circle cx="867.5" cy="104.99999999999999" r="0.8" fill="#6a6a6a"/><rect x="863.5" y="115.83999999999999" width="8" height="8" fill="url(#cbg)" stroke="#cfcfcf" stroke-width="1"/><path d="M862.9,119.33999999999999 L864.5,117.83999999999999 L866.6,119.83999999999999 L871.2,115.43999999999998 L872.7,117.03999999999999 L866.6,123.33999999999999 Z" fill="url(#chk)"/><circle cx="882.7" cy="120.63999999999999" r="3.7" fill="none" stroke="#111" stroke-width="1.3"/><path d="M882.7,120.63999999999999 L884.5,118.63999999999999" stroke="#111" stroke-width="1"/><circle cx="882.7" cy="120.63999999999999" r="0.8" fill="#111"/><rect x="894" y="116.04" width="7" height="7" fill="#3db843"/><rect x="863.5" y="130.88" width="8" height="8" fill="url(#cbg)" stroke="#cfcfcf" stroke-width="1"/><path d="M862.9,134.38 L864.5,132.88 L866.6,134.88 L871.2,130.48 L872.7,132.07999999999998 L866.6,138.38 Z" fill="url(#chk)"/><circle cx="882.7" cy="135.68" r="3.7" fill="none" stroke="#111" stroke-width="1.3"/><path d="M882.7,135.68 L884.5,133.68" stroke="#111" stroke-width="1"/><circle cx="882.7" cy="135.68" r="0.8" fill="#111"/><rect x="894" y="131.08" width="7" height="7" fill="#cf3a3a"/><rect x="863.5" y="145.92" width="8" height="8" fill="url(#cbg)" stroke="#cfcfcf" stroke-width="1"/><circle cx="882.7" cy="150.72" r="3.7" fill="none" stroke="#111" stroke-width="1.3"/><path d="M882.7,150.72 L884.5,148.72" stroke="#111" stroke-width="1"/><circle cx="882.7" cy="150.72" r="0.8" fill="#111"/><rect x="894" y="146.12" width="7" height="7" fill="#cbbcdf"/><rect x="863.5" y="160.95999999999998" width="8" height="8" fill="url(#cbg)" stroke="#cfcfcf" stroke-width="1"/><path d="M862.9,164.45999999999998 L864.5,162.95999999999998 L866.6,164.95999999999998 L871.2,160.55999999999997 L872.7,162.15999999999997 L866.6,168.45999999999998 Z" fill="url(#chk)"/><circle cx="882.7" cy="165.76" r="3.7" fill="none" stroke="#111" stroke-width="1.3"/><path d="M882.7,165.76 L884.5,163.76" stroke="#111" stroke-width="1"/><circle cx="882.7" cy="165.76" r="0.8" fill="#111"/><rect x="894" y="161.16" width="7" height="7" fill="#fcd434"/><rect x="863.5" y="175.99999999999997" width="8" height="8" fill="url(#cbg)" stroke="#cfcfcf" stroke-width="1"/><path d="M862.9,179.49999999999997 L864.5,177.99999999999997 L866.6,179.99999999999997 L871.2,175.59999999999997 L872.7,177.19999999999996 L866.6,183.49999999999997 Z" fill="url(#chk)"/><circle cx="882.7" cy="180.79999999999998" r="3.7" fill="none" stroke="#111" stroke-width="1.3"/><path d="M882.7,180.79999999999998 L884.5,178.79999999999998" stroke="#111" stroke-width="1"/><circle cx="882.7" cy="180.79999999999998" r="0.8" fill="#111"/><rect x="894" y="176.20" width="7" height="7" fill="#0d86db"/><rect x="863.5" y="191.03999999999996" width="8" height="8" fill="url(#cbg)" stroke="#cfcfcf" stroke-width="1"/><circle cx="882.7" cy="195.83999999999997" r="3.7" fill="none" stroke="#111" stroke-width="1.3"/><path d="M882.7,195.83999999999997 L884.5,193.83999999999997" stroke="#111" stroke-width="1"/><circle cx="882.7" cy="195.83999999999997" r="0.8" fill="#111"/><rect x="894" y="191.24" width="7" height="7" fill="#93bdbd"/><rect x="863.5" y="206.07999999999998" width="8" height="8" fill="url(#cbg)" stroke="#cfcfcf" stroke-width="1"/><circle cx="882.7" cy="210.88" r="3.7" fill="none" stroke="#111" stroke-width="1.3"/><path d="M882.7,210.88 L884.5,208.88" stroke="#111" stroke-width="1"/><circle cx="882.7" cy="210.88" r="0.8" fill="#111"/><rect x="894" y="206.28" width="7" height="7" fill="#f0860f"/><rect x="863.5" y="221.11999999999998" width="8" height="8" fill="url(#cbg)" stroke="#cfcfcf" stroke-width="1"/><circle cx="882.7" cy="225.92" r="3.7" fill="none" stroke="#111" stroke-width="1.3"/><path d="M882.7,225.92 L884.5,223.92" stroke="#111" stroke-width="1"/><circle cx="882.7" cy="225.92" r="0.8" fill="#111"/><rect x="894" y="221.32" width="7" height="7" fill="#17788f"/><rect x="863.5" y="236.15999999999997" width="8" height="8" fill="url(#cbg)" stroke="#cfcfcf" stroke-width="1"/><circle cx="882.7" cy="240.95999999999998" r="3.7" fill="none" stroke="#111" stroke-width="1.3"/><path d="M882.7,240.95999999999998 L884.5,238.95999999999998" stroke="#111" stroke-width="1"/><circle cx="882.7" cy="240.95999999999998" r="0.8" fill="#111"/><rect x="894" y="236.36" width="7" height="7" fill="#df4d1c"/><rect x="863.5" y="251.2" width="8" height="8" fill="url(#cbg)" stroke="#cfcfcf" stroke-width="1"/><circle cx="882.7" cy="256.0" r="3.7" fill="none" stroke="#111" stroke-width="1.3"/><path d="M882.7,256.0 L884.5,254.0" stroke="#111" stroke-width="1"/><circle cx="882.7" cy="256.0" r="0.8" fill="#111"/><rect x="894" y="251.40" width="7" height="7" fill="#70d3f5"/><rect x="863.5" y="266.23999999999995" width="8" height="8" fill="url(#cbg)" stroke="#cfcfcf" stroke-width="1"/><circle cx="882.7" cy="271.03999999999996" r="3.7" fill="none" stroke="#111" stroke-width="1.3"/><path d="M882.7,271.03999999999996 L884.5,269.03999999999996" stroke="#111" stroke-width="1"/><circle cx="882.7" cy="271.03999999999996" r="0.8" fill="#111"/><rect x="894" y="266.44" width="7" height="7" fill="#77b855"/><rect x="863.5" y="281.28" width="8" height="8" fill="url(#cbg)" stroke="#cfcfcf" stroke-width="1"/><circle cx="882.7" cy="286.08" r="3.7" fill="none" stroke="#111" stroke-width="1.3"/><path d="M882.7,286.08 L884.5,284.08" stroke="#111" stroke-width="1"/><circle cx="882.7" cy="286.08" r="0.8" fill="#111"/><rect x="894" y="281.48" width="7" height="7" fill="#c93448"/><rect x="863.5" y="296.32" width="8" height="8" fill="url(#cbg)" stroke="#cfcfcf" stroke-width="1"/><circle cx="882.7" cy="301.12" r="3.7" fill="none" stroke="#111" stroke-width="1.3"/><path d="M882.7,301.12 L884.5,299.12" stroke="#111" stroke-width="1"/><circle cx="882.7" cy="301.12" r="0.8" fill="#111"/><rect x="894" y="296.52" width="7" height="7" fill="#fbb00f"/><rect x="863.5" y="311.35999999999996" width="8" height="8" fill="url(#cbg)" stroke="#cfcfcf" stroke-width="1"/><circle cx="882.7" cy="316.15999999999997" r="3.7" fill="none" stroke="#111" stroke-width="1.3"/><path d="M882.7,316.15999999999997 L884.5,314.15999999999997" stroke="#111" stroke-width="1"/><circle cx="882.7" cy="316.15999999999997" r="0.8" fill="#111"/><rect x="894" y="311.56" width="7" height="7" fill="#6aa84f"/><rect x="863.5" y="326.4" width="8" height="8" fill="url(#cbg)" stroke="#cfcfcf" stroke-width="1"/><circle cx="882.7" cy="331.2" r="3.7" fill="none" stroke="#111" stroke-width="1.3"/><path d="M882.7,331.2 L884.5,329.2" stroke="#111" stroke-width="1"/><circle cx="882.7" cy="331.2" r="0.8" fill="#111"/><rect x="894" y="326.60" width="7" height="7" fill="#de3a2a"/><rect x="863.5" y="341.44" width="8" height="8" fill="url(#cbg)" stroke="#cfcfcf" stroke-width="1"/><circle cx="882.7" cy="346.24" r="3.7" fill="none" stroke="#111" stroke-width="1.3"/><path d="M882.7,346.24 L884.5,344.24" stroke="#111" stroke-width="1"/><circle cx="882.7" cy="346.24" r="0.8" fill="#111"/><rect x="894" y="341.64" width="7" height="7" fill="#2575d5"/><path d="M838.4,357.28 L838.4,361.17999999999995 L834.3,361.17999999999995 Z" fill="#333"/><rect x="848.5" y="355.47999999999996" width="8" height="8" fill="url(#cbg)" stroke="#cfcfcf" stroke-width="1"/><g transform="translate(863,355.47999999999996) scale(1.0) translate(-863,-355.47999999999996)"><path d="M864,363.97999999999996 C865,361.47999999999996 866,359.97999999999996 869.5,358.28" fill="none" stroke="#8a8a8a" stroke-width="0.9"/><path d="M865.2,362.47999999999996 C863.8,358.47999999999996 867,356.28 871.5,355.97999999999996 C871.6,360.47999999999996 869,363.47999999999996 865.2,362.47999999999996 Z" fill="#8a8a8a"/><path d="M865,363.08 C866.5,360.47999999999996 868,358.97999999999996 870.5,357.47999999999996" fill="none" stroke="#fff" stroke-width="0.8"/></g><rect x="863.5" y="371.5199999999999" width="8" height="8" fill="url(#cbg)" stroke="#cfcfcf" stroke-width="1"/><g transform="translate(878.5,371.31999999999994) scale(1.0) translate(-878.5,-371.31999999999994)"><path d="M879.5,379.81999999999994 C880.5,377.31999999999994 881.5,375.81999999999994 885.0,374.11999999999995" fill="none" stroke="#222" stroke-width="0.9"/><path d="M880.7,378.31999999999994 C879.3,374.31999999999994 882.5,372.11999999999995 887.0,371.81999999999994 C887.1,376.31999999999994 884.5,379.31999999999994 880.7,378.31999999999994 Z" fill="#222"/><path d="M880.5,378.91999999999996 C882.0,376.31999999999994 883.5,374.81999999999994 886.0,373.31999999999994" fill="none" stroke="#fff" stroke-width="0.8"/></g><rect x="894" y="371.72" width="7" height="7" fill="#0d86db"/><rect x="863.5" y="386.56" width="8" height="8" fill="url(#cbg)" stroke="#cfcfcf" stroke-width="1"/><g transform="translate(878.5,386.36) scale(1.0) translate(-878.5,-386.36)"><path d="M879.5,394.86 C880.5,392.36 881.5,390.86 885.0,389.16" fill="none" stroke="#222" stroke-width="0.9"/><path d="M880.7,393.36 C879.3,389.36 882.5,387.16 887.0,386.86 C887.1,391.36 884.5,394.36 880.7,393.36 Z" fill="#222"/><path d="M880.5,393.96000000000004 C882.0,391.36 883.5,389.86 886.0,388.36" fill="none" stroke="#fff" stroke-width="0.8"/></g><rect x="894" y="386.76" width="7" height="7" fill="#d9534f"/><rect x="863.5" y="401.59999999999997" width="8" height="8" fill="url(#cbg)" stroke="#cfcfcf" stroke-width="1"/><g transform="translate(878.5,401.4) scale(1.0) translate(-878.5,-401.4)"><path d="M879.5,409.9 C880.5,407.4 881.5,405.9 885.0,404.2" fill="none" stroke="#222" stroke-width="0.9"/><path d="M880.7,408.4 C879.3,404.4 882.5,402.2 887.0,401.9 C887.1,406.4 884.5,409.4 880.7,408.4 Z" fill="#222"/><path d="M880.5,409.0 C882.0,406.4 883.5,404.9 886.0,403.4" fill="none" stroke="#fff" stroke-width="0.8"/></g><rect x="894" y="401.80" width="7" height="7" fill="#e42d1f"/><rect x="863.5" y="416.63999999999993" width="8" height="8" fill="url(#cbg)" stroke="#cfcfcf" stroke-width="1"/><g transform="translate(878.5,416.43999999999994) scale(1.0) translate(-878.5,-416.43999999999994)"><path d="M879.5,424.93999999999994 C880.5,422.43999999999994 881.5,420.93999999999994 885.0,419.23999999999995" fill="none" stroke="#222" stroke-width="0.9"/><path d="M880.7,423.43999999999994 C879.3,419.43999999999994 882.5,417.23999999999995 887.0,416.93999999999994 C887.1,421.43999999999994 884.5,424.43999999999994 880.7,423.43999999999994 Z" fill="#222"/><path d="M880.5,424.03999999999996 C882.0,421.43999999999994 883.5,419.93999999999994 886.0,418.43999999999994" fill="none" stroke="#fff" stroke-width="0.8"/></g><rect x="894" y="416.84" width="7" height="7" fill="#8cc540"/><rect x="863.5" y="431.68" width="8" height="8" fill="url(#cbg)" stroke="#cfcfcf" stroke-width="1"/><g transform="translate(878.5,431.48) scale(1.0) translate(-878.5,-431.48)"><path d="M879.5,439.98 C880.5,437.48 881.5,435.98 885.0,434.28000000000003" fill="none" stroke="#222" stroke-width="0.9"/><path d="M880.7,438.48 C879.3,434.48 882.5,432.28000000000003 887.0,431.98 C887.1,436.48 884.5,439.48 880.7,438.48 Z" fill="#222"/><path d="M880.5,439.08000000000004 C882.0,436.48 883.5,434.98 886.0,433.48" fill="none" stroke="#fff" stroke-width="0.8"/></g><rect x="894" y="431.88" width="7" height="7" fill="#dcdc9c"/><path d="M838.4,447.52 L838.4,451.41999999999996 L834.3,451.41999999999996 Z" fill="#333"/><rect x="848.5" y="445.71999999999997" width="8" height="8" fill="url(#cbg)" stroke="#cfcfcf" stroke-width="1"/><path d="M867.5,445.91999999999996 L870.3,445.91999999999996 L868.6,449.21999999999997 L870.6,449.21999999999997 L866,455.11999999999995 L867.2,450.91999999999996 L865.2,450.91999999999996 Z" fill="#8a8a8a"/><rect x="863.5" y="461.75999999999993" width="8" height="8" fill="url(#cbg)" stroke="#cfcfcf" stroke-width="1"/><path d="M883.1,462.05999999999995 L885.9,462.05999999999995 L884.2,465.35999999999996 L886.2,465.35999999999996 L881.6,471.25999999999993 L882.8000000000001,467.05999999999995 L880.8000000000001,467.05999999999995 Z" fill="#222"/><rect x="863.5" y="476.8" width="8" height="8" fill="url(#cbg)" stroke="#cfcfcf" stroke-width="1"/><path d="M883.1,477.1 L885.9,477.1 L884.2,480.40000000000003 L886.2,480.40000000000003 L881.6,486.3 L882.8000000000001,482.1 L880.8000000000001,482.1 Z" fill="#222"/><rect x="863.5" y="491.84" width="8" height="8" fill="url(#cbg)" stroke="#cfcfcf" stroke-width="1"/><path d="M883.1,492.14 L885.9,492.14 L884.2,495.44 L886.2,495.44 L881.6,501.34 L882.8000000000001,497.14 L880.8000000000001,497.14 Z" fill="#222"/><rect x="863.5" y="506.87999999999994" width="8" height="8" fill="url(#cbg)" stroke="#cfcfcf" stroke-width="1"/><path d="M883.1,507.17999999999995 L885.9,507.17999999999995 L884.2,510.47999999999996 L886.2,510.47999999999996 L881.6,516.38 L882.8000000000001,512.18 L880.8000000000001,512.18 Z" fill="#222"/><rect x="863.5" y="521.9200000000001" width="8" height="8" fill="url(#cbg)" stroke="#cfcfcf" stroke-width="1"/><path d="M883.1,522.22 L885.9,522.22 L884.2,525.52 L886.2,525.52 L881.6,531.4200000000001 L882.8000000000001,527.22 L880.8000000000001,527.22 Z" fill="#222"/><rect x="1073" y="90" width="10" height="444" fill="#f1f1f1"/><rect x="1073" y="100.5" width="10" height="247.5" fill="#c9c9c9"/><path d="M1075.3,97 L1078,94.2 L1080.7,97" fill="none" stroke="#555" stroke-width="1.2"/><path d="M1075.3,527.6 L1078,530.4 L1080.7,527.6" fill="none" stroke="#555" stroke-width="1.2"/></svg>
<div class="a tr g" style="left:876.4px;top:100.40px">Zähler</div><div class="a tr" style="left:904.7px;top:115.74px">Überschuss</div><div class="a tr" style="left:904.7px;top:130.78px">Bezug</div><div class="a tr" style="left:904.7px;top:145.82px">Bezug Heizstab</div><div class="a tr" style="left:904.7px;top:160.86px">PV</div><div class="a tr" style="left:904.7px;top:175.90px">Eigenverbrauch</div><div class="a tr" style="left:904.7px;top:190.94px">Dose 1</div><div class="a tr" style="left:904.7px;top:205.98px">Dose 2</div><div class="a tr" style="left:904.7px;top:221.02px">Dose 3</div><div class="a tr" style="left:904.7px;top:236.06px">Dose 4</div><div class="a tr" style="left:904.7px;top:251.10px">Summe Heizpanele</div><div class="a tr" style="left:904.7px;top:266.14px">Überschuss ohne Heizpanele</div><div class="a tr" style="left:904.7px;top:281.18px">Bezug ohne Heizpanele</div><div class="a tr" style="left:904.7px;top:296.22px">Bezug Kachelofen</div><div class="a tr" style="left:904.7px;top:311.26px">Übers. + Kachelofen</div><div class="a tr" style="left:904.7px;top:326.30px">Bezug - Kachelofen</div><div class="a tr" style="left:904.7px;top:341.34px">Summe Heizpanele Automatik</div><div class="a tr g" style="left:876.4px;top:356.08px">Sensoren</div><div class="a tr" style="left:904.7px;top:371.42px">Boiler Temp.</div><div class="a tr" style="left:904.7px;top:386.46px">Temperatur 1</div><div class="a tr" style="left:904.7px;top:401.50px">Temperatur 2</div><div class="a tr" style="left:904.7px;top:416.54px">Luftfeuchte 1</div><div class="a tr" style="left:904.7px;top:431.58px">Luftfeuchte 2</div><div class="a tr g" style="left:876.4px;top:446.32px">Regelungen</div><div class="a tr" style="left:893.7px;top:461.66px">Heizstab Hand</div><div class="a tr" style="left:893.7px;top:476.70px">Heizstab</div><div class="a tr" style="left:893.7px;top:491.74px">Begr. Heizstab 65</div><div class="a tr" style="left:893.7px;top:506.78px">Lüfter Stufe 3 Hyst.</div><div class="a tr" style="left:893.7px;top:521.82px">Lüftung Stufe 3 Hand</div>
<svg width="1100" height="574" viewBox="0 0 1100 574"><rect x="2" y="550" width="26" height="22" fill="#d3d3d3"/><rect x="28" y="550" width="162" height="22" fill="#ececec"/><rect x="190" y="550" width="52" height="22" fill="#e3e3e3"/><rect x="246" y="550" width="27" height="22" fill="#e3e3e3"/><rect x="277.5" y="550.5" width="62" height="21" fill="#fff" stroke="#e6e6e6" stroke-width="1"/><rect x="343" y="550" width="63" height="22" fill="#c9c9c9"/><rect x="406" y="550" width="140" height="22" fill="#e3e3e3"/><rect x="549" y="550" width="25" height="22" fill="#e3e3e3"/><rect x="577" y="550" width="33" height="22" fill="#e3e3e3"/><path d="M11,561.2 L15,557.6 L15,559.9 L19.9,559.9 L19.9,562.5 L15,562.5 L15,564.8 Z" fill="#222"/><path d="M233.4,561.2 L229.4,557.6 L229.4,559.9 L224.5,559.9 L224.5,562.5 L229.4,562.5 L229.4,564.8 Z" fill="#222"/><rect x="198.8" y="558.2" width="8.2" height="7" fill="none" stroke="#555" stroke-width="1"/><rect x="198.8" y="557.8" width="8.2" height="2" fill="#555"/><path d="M200.5,556.5 V558.5 M205.3,556.5 V558.5" stroke="#555" stroke-width="1"/><path d="M199,561.5 H207 M199,563.4 H207 M201.4,560 V565 M203.8,560 V565" stroke="#888" stroke-width="0.6"/><path d="M255.3,561.4 L260.2,556.8 L265,561.4 L263.6,561.4 L263.6,565 L261.3,565 L261.3,562.4 L259,562.4 L259,565 L256.7,565 L256.7,561.4 Z" fill="#222"/><path d="M331,560 L333.9,562.8 L336.8,560" fill="none" stroke="#444" stroke-width="1.1"/><path d="M559.2,560.8 A3.8,3.8 0 0 1 566,559" fill="none" stroke="#222" stroke-width="1.6"/><path d="M567.3,556.8 L567.3,560.6 L563.5,560.6 Z" fill="#222"/><path d="M566.2,562.4 A3.8,3.8 0 0 1 559.4,564.2" fill="none" stroke="#222" stroke-width="1.6"/><path d="M558.1,566.4 L558.1,562.6 L561.9,562.6 Z" fill="#222"/></svg>
<div class="a bt" style="left:36px;top:557.2px"><span style="font-size:8.8px">10.03.2022</span></div>
<div class="a bt" style="left:288.4px;top:557.2px">2 Tage</div>
<div class="a bt" style="left:351.5px;top:557.2px">Tageskurve</div>
<div class="a bt" style="left:415px;top:557.2px">Monat</div>
<div class="a bt" style="left:457.7px;top:557.2px">Jahr</div>
<div class="a bt" style="left:491.8px;top:557.2px">Gesamtzeit</div>
<div class="a bt" style="left:586.4px;top:557.2px">.csv</div>
<svg width="1100" height="574" viewBox="0 0 1100 574"><circle cx="17.1" cy="46.300000000000004" r="3.7" fill="none" stroke="#fff" stroke-width="1.5"/><path d="M17.1,46.300000000000004 L18.900000000000002,44.300000000000004" stroke="#fff" stroke-width="1"/><circle cx="17.1" cy="46.300000000000004" r="0.8" fill="#fff"/><g transform="translate(59.3,41.2) scale(1.15) translate(-59.3,-41.2)"><path d="M60.3,49.7 C61.3,47.2 62.3,45.7 65.8,44.0" fill="none" stroke="#fff" stroke-width="0.9"/><path d="M61.5,48.2 C60.099999999999994,44.2 63.3,42.0 67.8,41.7 C67.89999999999999,46.2 65.3,49.2 61.5,48.2 Z" fill="#fff"/><path d="M61.3,48.800000000000004 C62.8,46.2 64.3,44.7 66.8,43.2" fill="none" stroke="#337ab7" stroke-width="0.8"/></g><path d="M123.7,41.9 L126.5,41.9 L124.8,45.199999999999996 L126.8,45.199999999999996 L122.2,51.099999999999994 L123.4,46.9 L121.4,46.9 Z" fill="#fff"/><circle cx="204.7" cy="46.1" r="3.6" fill="none" stroke="#5b9bd5" stroke-width="1.3"/><circle cx="204.7" cy="46.1" r="4.3" fill="none" stroke="#5b9bd5" stroke-width="0.9" stroke-dasharray="0.9 1.35"/></svg>
</body></html>
